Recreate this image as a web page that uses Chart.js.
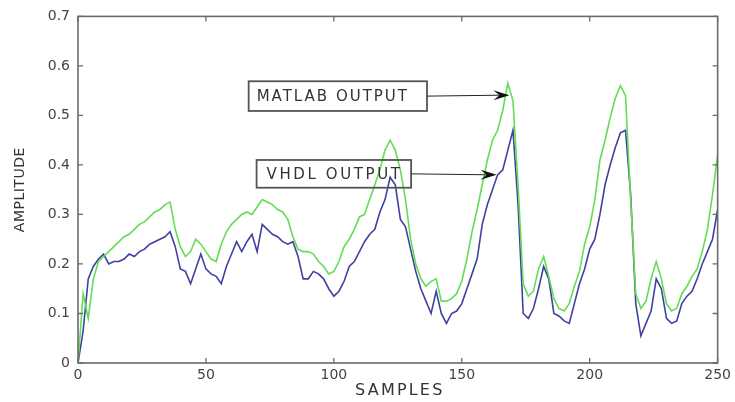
<!DOCTYPE html>
<html>
<head>
<meta charset="utf-8">
<style>
html,body{margin:0;padding:0;background:#fff;}
#wrap{width:735px;height:402px;position:relative;}
</style>
<script src="https://cdn.jsdelivr.net/npm/chart.js@4/dist/chart.umd.min.js"></script>
</head>
<body>
<div id="wrap"><canvas id="c" width="735" height="402"></canvas></div>
<script>
const samples = [];
for (let s = 0; s <= 250; s += 2) samples.push(s);

const matlabOutput = [
0.0,0.14,0.09,0.17,0.205,0.215,0.225,0.235,0.245,0.255,
0.26,0.27,0.28,0.285,0.295,0.305,0.31,0.32,0.325,0.27,
0.235,0.215,0.225,0.25,0.24,0.225,0.21,0.205,0.24,0.265,
0.28,0.29,0.30,0.305,0.30,0.315,0.33,0.325,0.32,0.31,
0.305,0.29,0.255,0.23,0.225,0.225,0.22,0.205,0.195,0.18,
0.185,0.205,0.235,0.25,0.27,0.295,0.30,0.33,0.36,0.39,
0.43,0.45,0.43,0.39,0.33,0.25,0.20,0.17,0.155,0.165,
0.17,0.125,0.125,0.13,0.14,0.165,0.21,0.265,0.31,0.36,
0.41,0.45,0.47,0.51,0.565,0.53,0.36,0.16,0.135,0.145,
0.19,0.215,0.175,0.13,0.11,0.105,0.12,0.155,0.185,0.24,
0.275,0.33,0.41,0.45,0.495,0.535,0.56,0.54,0.33,0.14,
0.11,0.125,0.17,0.205,0.17,0.12,0.105,0.11,0.14,0.155,
0.175,0.19,0.225,0.27,0.34,0.42
];

const vhdlOutput = [
0.0,0.065,0.17,0.195,0.21,0.22,0.20,0.205,0.205,0.21,
0.22,0.215,0.225,0.23,0.24,0.245,0.25,0.255,0.265,0.235,
0.19,0.185,0.16,0.19,0.22,0.19,0.18,0.175,0.16,0.195,
0.22,0.245,0.225,0.245,0.26,0.225,0.28,0.27,0.26,0.255,
0.245,0.24,0.245,0.215,0.17,0.17,0.185,0.18,0.17,0.15,
0.135,0.145,0.165,0.195,0.205,0.225,0.245,0.26,0.27,0.305,
0.33,0.375,0.36,0.29,0.275,0.23,0.185,0.15,0.125,0.10,
0.145,0.10,0.08,0.10,0.105,0.12,0.15,0.18,0.21,0.28,
0.32,0.35,0.38,0.39,0.43,0.47,0.32,0.10,0.09,0.11,
0.15,0.195,0.17,0.10,0.095,0.085,0.08,0.12,0.16,0.19,
0.23,0.25,0.30,0.36,0.40,0.435,0.465,0.47,0.34,0.12,
0.055,0.08,0.105,0.17,0.15,0.09,0.08,0.085,0.12,0.135,
0.145,0.17,0.2,0.225,0.25,0.31
];

const xTicks = [0, 50, 100, 150, 200, 250];
const yTicks = [0, 0.1, 0.2, 0.3, 0.4, 0.5, 0.6, 0.7];
const xTitle = 'SAMPLES';
const yTitle = 'AMPLITUDE';

// annotation labels: box corners and arrow tip in data units
const noteLabels = ['MATLAB OUTPUT', 'VHDL OUTPUT'];
const noteBoxX = [[66.7, 136.4], [69.8, 130.2]];
const noteBoxY = [[0.569, 0.509], [0.41, 0.354]];
const noteTip = [[168.6, 0.541], [163.6, 0.38]];

function toXY(vals){ return samples.map((s,i)=>({x:s, y:vals[i]})); }

const framePlugin = {
  id: 'frame',
  afterDatasetsDraw(chart){
    const ctx = chart.ctx, a = chart.chartArea;
    const xs = chart.scales.x, ys = chart.scales.y;
    ctx.save();
    ctx.strokeStyle = '#6a6a6a';
    ctx.lineWidth = 1.6;
    ctx.strokeRect(a.left, a.top, a.right - a.left, a.bottom - a.top);
    ctx.lineWidth = 1.3;
    ctx.beginPath();
    xTicks.forEach(t=>{
      const px = xs.getPixelForValue(t);
      ctx.moveTo(px, a.bottom); ctx.lineTo(px, a.bottom - 5);
      ctx.moveTo(px, a.top); ctx.lineTo(px, a.top + 5);
    });
    yTicks.forEach(t=>{
      const py = ys.getPixelForValue(t);
      ctx.moveTo(a.left, py); ctx.lineTo(a.left + 5, py);
      ctx.moveTo(a.right, py); ctx.lineTo(a.right - 5, py);
    });
    ctx.stroke();

    // annotations
    const spacing = ['2px', '2.6px'];
    noteLabels.forEach((lab,i)=>{
      const x1 = xs.getPixelForValue(noteBoxX[i][0]);
      const x2 = xs.getPixelForValue(noteBoxX[i][1]);
      const y1 = ys.getPixelForValue(noteBoxY[i][0]);
      const y2 = ys.getPixelForValue(noteBoxY[i][1]);
      ctx.strokeStyle = '#555';
      ctx.lineWidth = 1.8;
      ctx.strokeRect(x1, y1, x2 - x1, y2 - y1);
      ctx.fillStyle = '#333';
      ctx.font = '15px "DejaVu Sans"';
      ctx.textBaseline = 'middle';
      ctx.textAlign = 'left';
      try { ctx.letterSpacing = spacing[i]; } catch(e){}
      ctx.fillText(lab, x1 + (i === 0 ? 8 : 10), (y1 + y2) / 2 + 1);
      try { ctx.letterSpacing = '0px'; } catch(e){}
      // arrow
      const tx = xs.getPixelForValue(noteTip[i][0]);
      const ty = ys.getPixelForValue(noteTip[i][1]);
      const sy = (y1 + y2) / 2;
      ctx.strokeStyle = '#222';
      ctx.lineWidth = 1;
      ctx.beginPath();
      ctx.moveTo(x2, sy); ctx.lineTo(tx - 4, ty);
      ctx.stroke();
      const ang = Math.atan2(ty - sy, tx - x2);
      ctx.fillStyle = '#111';
      ctx.beginPath();
      ctx.moveTo(tx, ty);
      ctx.lineTo(tx - 16*Math.cos(ang) + 5*Math.sin(ang), ty - 16*Math.sin(ang) - 5*Math.cos(ang));
      ctx.lineTo(tx - 10*Math.cos(ang), ty - 10*Math.sin(ang));
      ctx.lineTo(tx - 16*Math.cos(ang) - 5*Math.sin(ang), ty - 16*Math.sin(ang) + 5*Math.cos(ang));
      ctx.closePath();
      ctx.fill();
    });

    // axis titles
    ctx.fillStyle = '#333';
    ctx.font = '16px "DejaVu Sans"';
    ctx.textAlign = 'center';
    ctx.textBaseline = 'middle';
    try { ctx.letterSpacing = '2.2px'; } catch(e){}
    ctx.fillText(xTitle, (a.left + a.right) / 2 + 2, 391);
    ctx.translate(20, (a.top + a.bottom) / 2);
    ctx.rotate(-Math.PI / 2);
    ctx.font = '14px "DejaVu Sans"';
    try { ctx.letterSpacing = '0.5px'; } catch(e){}
    ctx.fillText(yTitle, 0, 0);
    ctx.restore();
  }
};

new Chart(document.getElementById('c'), {
  type: 'line',
  data: {
    datasets: [
      { label: 'MATLAB OUTPUT', data: toXY(matlabOutput), borderColor: '#62dd55', borderWidth: 1.6, pointRadius: 0, tension: 0, fill: false },
      { label: 'VHDL OUTPUT', data: toXY(vhdlOutput), borderColor: '#4040a0', borderWidth: 1.6, pointRadius: 0, tension: 0, fill: false }
    ]
  },
  options: {
    responsive: false,
    animation: false,
    devicePixelRatio: 1,
    layout: { padding: { top: 11, right: 12, left: 0, bottom: 0 } },
    plugins: { legend: { display: false }, tooltip: { enabled: false } },
    scales: {
      x: {
        type: 'linear', min: 0, max: 250,
        grid: { display: false, drawTicks: false },
        border: { display: false },
        afterBuildTicks: s => { s.ticks = xTicks.map(v=>({value:v})); },
        afterFit: s => { s.height = 39; },
        ticks: { color: '#444', font: { family: 'DejaVu Sans', size: 14 }, padding: 4, maxRotation: 0 }
      },
      y: {
        type: 'linear', min: 0, max: 0.7,
        grid: { display: false, drawTicks: false },
        border: { display: false },
        afterBuildTicks: s => { s.ticks = yTicks.map(v=>({value:v})); },
        afterFit: s => { s.width = 78; },
        ticks: { color: '#444', font: { family: 'DejaVu Sans', size: 14 }, padding: 8,
          callback: v => (v === 0 ? '0' : v.toFixed(1)) }
      }
    }
  },
  plugins: [framePlugin]
});
</script>
</body>
</html>
